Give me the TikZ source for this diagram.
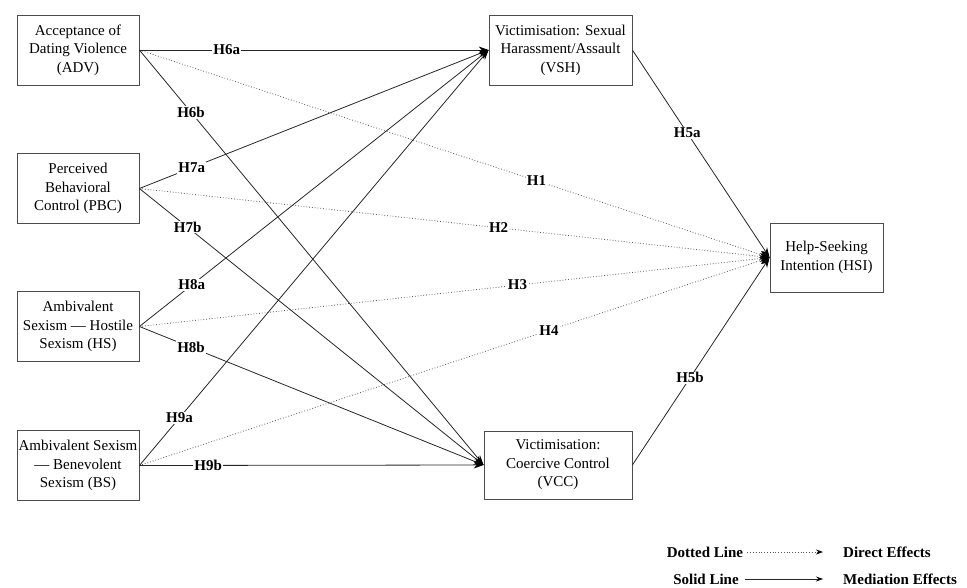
\documentclass[tikz,border=0pt]{standalone}
\usepackage{fontspec}
\setmainfont{Liberation Serif}
\usetikzlibrary{arrows.meta}
\tikzset{
  box/.style={draw=black!70, line width=0.8pt, align=center, inner sep=1pt,
    font=\fontsize{15}{18.5}\selectfont},
  hyp/.style={fill=white, inner sep=1pt, font=\bfseries\fontsize{15}{18}\selectfont},
  med/.style={draw=black!85, line width=0.8pt, -{Stealth[length=10pt,width=7pt,black]}},
  dir/.style={draw=black!65, line width=0.8pt, dash pattern=on 0.8pt off 2pt,
    -{Stealth[length=10pt,width=7pt,black]}},
}
\begin{document}
\begin{tikzpicture}[x=1pt, y=-1pt]
    \useasboundingbox (0,0) rectangle (967,587);
    % predictors
    \node[box, minimum width=122pt, minimum height=70pt] (adv) at (78,50) {Acceptance of\\Dating Violence\\(ADV)};
    \node[box, minimum width=122pt, minimum height=70pt] (pbc) at (78,188.5) {Perceived\\Behavioral\\Control (PBC)};
    \node[box, minimum width=122pt, minimum height=70pt] (hs) at (78,326.5) {Ambivalent\\Sexism --- Hostile\\Sexism (HS)};
    \node[box, minimum width=122pt, minimum height=70pt] (bs) at (78,465.5) {Ambivalent Sexism\\--- Benevolent\\Sexism (BS)};
    % mediators and outcome
    \node[box, minimum width=143pt, minimum height=70pt] (vsh) at (560.5,50) {Victimisation: Sexual\\Harassment/Assault\\(VSH)};
    \node[box, minimum width=148pt, minimum height=68pt] (vcc) at (558,465) {Victimisation:\\Coercive Control\\(VCC)};
    \node[box, minimum width=113pt, minimum height=69pt] (hsi) at (826.5,257.5) {Help-Seeking\\Intention (HSI)};

    % direct effects
    \draw[dir] (adv.east) -- node[hyp, pos=0.63] (h1) {H1} (hsi.west);
    \draw[dir] (pbc.east) -- node[hyp, pos=0.57] (h2) {H2} (hsi.west);
    \draw[dir] (hs.east) -- node[hyp, pos=0.60] (h3) {H3} (hsi.west);
    \draw[dir] (bs.east) -- node[hyp, pos=0.65] (h4) {H4} (hsi.west);

    % mediation paths
    \draw[med] (adv.east) -- node[hyp, pos=0.25] (h6a) {H6a} (vsh.west);
    \draw[med] (adv.east) -- node[hyp, pos=0.15] (h6b) {H6b} (vcc.west);
    \draw[med] (pbc.east) -- node[hyp, pos=0.15] (h7a) {H7a} (vsh.west);
    \draw[med] (pbc.east) -- node[hyp, pos=0.14] (h7b) {H7b} (vcc.west);
    \draw[med] (hs.east) -- node[hyp, pos=0.15] (h8a) {H8a} (vsh.west);
    \draw[med] (hs.east) -- node[hyp, pos=0.15] (h8b) {H8b} (vcc.west);
    \draw[med] (bs.east) -- node[hyp, pos=0.115] (h9a) {H9a} (vsh.west);
    \draw[med] (bs.east) -- node[hyp, pos=0.2] (h9b) {H9b} (vcc.west);
    \draw[med] (vsh.east) -- node[hyp, pos=0.4] (h5a) {H5a} (hsi.west);
    \draw[med] (vcc.east) -- node[hyp, pos=0.42] (h5b) {H5b} (hsi.west);

    % legend
    \node[hyp] (dotl) at (705,552) {Dotted Line};
    \node[hyp, anchor=west] (dire) at (842,552) {Direct Effects};
    \node[hyp] (soll) at (706,579) {Solid Line};
    \node[hyp, anchor=west] (mede) at (842,579) {Mediation Effects};
    \draw[dir, shorten <=3pt, shorten >=19pt, -{Stealth[length=7pt,width=5pt,black]}] (dotl.east) -- (dire.west);
    \draw[med, shorten <=5pt, shorten >=19pt, -{Stealth[length=7pt,width=5pt,black]}] (soll.east) -- (mede.west);
\end{tikzpicture}
\end{document}
